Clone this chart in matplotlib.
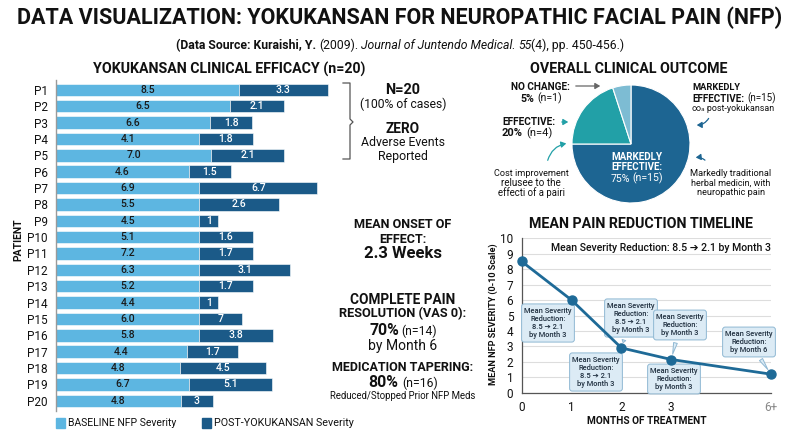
import matplotlib
matplotlib.use('Agg')
import matplotlib.pyplot as plt
from matplotlib.patches import Rectangle, FancyArrowPatch
from matplotlib.lines import Line2D

plt.rcParams['font.family'] = ['Roboto', 'DejaVu Sans']

# ---------------- data ----------------
patients = [f"P{i}" for i in range(1, 21)]
baseline_labels = ["8.5", "6.5", "6.6", "4.1", "7.0", "4.6", "6.9", "5.5", "4.5", "5.1",
                   "7.2", "6.3", "5.2", "4.4", "6.0", "5.8", "4.4", "4.8", "6.7", "4.8"]
post_labels = ["3.3", "2.1", "1.8", "1.8", "2.1", "1.5", "6.7", "2.6", "1", "1.6",
               "1.7", "3.1", "1.7", "1", "7", "3.8", "1.7", "4.5", "5.1", "3"]
# segment lengths as drawn in the reference (severity-scale units)
baseline_bar = [8.50, 8.09, 7.18, 6.67, 7.22, 6.17, 6.67, 6.67, 6.67, 6.67,
                6.67, 6.67, 6.67, 6.67, 6.67, 6.67, 6.08, 5.77, 6.17, 5.81]
post_bar = [4.14, 2.50, 1.95, 2.47, 3.37, 1.95, 5.47, 3.72, 0.86, 2.47,
            2.47, 4.20, 2.47, 0.86, 2.00, 3.44, 2.37, 4.00, 3.86, 1.50]

outcome_labels = ["Markedly effective", "Effective", "No change"]
outcome_pct = [75, 20, 5]
outcome_n = [15, 4, 1]

months_labels = ["0", "1", "2", "3", "6+"]
months_pos = [0, 1, 2, 3, 5]
mean_severity = [8.5, 6.0, 2.9, 2.15, 1.2]

C_BASE = '#5db6e1'
C_POST = '#1b5a88'
C_PIE = ['#1d6592', '#22a0a7', '#7dbcd3']
C_LINE = '#1e6a97'
C_TXT = '#111111'

W, H = 800, 436
fig = plt.figure(figsize=(8, 4.36), dpi=100)
R = fig.canvas.get_renderer()


def P(x, y):
    return (x / W, 1 - y / H)


def text_w(s, size, **kw):
    t = fig.text(0, 0, s, fontsize=size, **kw)
    w = t.get_window_extent(R).width
    t.remove()
    return w


def fit(s, x, y, width, ha='center', va='center', color=C_TXT, **kw):
    w1 = text_w(s, 10, **kw)
    size = 10 * width / w1
    return fig.text(*P(x, y), s, fontsize=size, ha=ha, va=va, color=color, **kw)


def rich(pieces, x, y, width, ha='center', color=C_TXT, gaps=None):
    base = 10
    ws = [text_w(s, base * r, **kw) for s, r, kw in pieces]
    g = 0.26 * base * 100 / 72
    if gaps is None:
        gaps = [g] * (len(pieces) - 1) + [0]
    else:
        gaps = [g * v for v in gaps] + [0]
    total = sum(ws) + sum(gaps)
    k = width / total
    x0 = x - width / 2 if ha == 'center' else x
    maxsize = max(r for _, r, _ in pieces) * base * k
    yb = y + 0.36 * maxsize * 100 / 72
    cx = x0
    for (s, r, kw), w, gg in zip(pieces, ws, gaps):
        fig.text(*P(cx, yb), s, fontsize=base * r * k, ha='left', va='baseline',
                 color=color, **kw)
        cx += (w + gg) * k


B = dict(fontweight='bold')
N = dict()
I = dict(fontstyle='italic')

# ---------------- titles ----------------
fit("DATA VISUALIZATION: YOKUKANSAN FOR NEUROPATHIC FACIAL PAIN (NFP)", 400, 18, 765, **B)
rich([("(Data Source: Kuraishi, Y.", 1, B), ("(2009).", 1, N),
      ("Journal of Juntendo Medical.", 1, I), ("55", 1, I),
      ("(4), pp. 450-456.)", 1, N)],
     400, 45, 449, gaps=[1, 1, 1, 0])

fit("YOKUKANSAN CLINICAL EFFICACY (n=20)", 229, 69, 272, **B)
fit("OVERALL CLINICAL OUTCOME", 629, 69, 198, **B)
fit("MEAN PAIN REDUCTION TIMELINE", 641, 224, 224, **B)

# ---------------- bar chart ----------------
ax1 = fig.add_axes([56 / W, 1 - 410.6 / H, (340 - 56) / W, (410.6 - 80) / H])
ypos = list(range(len(patients)))
ax1.barh(ypos, baseline_bar, height=0.76, color=C_BASE, edgecolor='white', linewidth=0.4)
ax1.barh(ypos, post_bar, left=baseline_bar, height=0.76, color=C_POST,
         edgecolor='white', linewidth=0.4)
for yi, b, p, bl, pl in zip(ypos, baseline_bar, post_bar, baseline_labels, post_labels):
    ax1.text(b / 2, yi, bl, ha='center', va='center', fontsize=7.5, color='#1a1a1a',
             fontweight='medium')
    ax1.text(b + p / 2, yi, pl, ha='center', va='center', fontsize=7.5, color='white',
             fontweight='medium')
ax1.set_xlim(0, 284 / 21.5)
ax1.set_ylim(19.6, -0.6)
ax1.set_yticks(ypos)
ax1.set_yticklabels(patients, fontsize=8.5, color=C_TXT)
ax1.tick_params(axis='y', length=0, pad=6)
ax1.set_xticks([])
for s in ['top', 'right', 'bottom']:
    ax1.spines[s].set_visible(False)
ax1.spines['left'].set_color('#9a9a9a')
ax1.spines['left'].set_linewidth(1.0)
fig.text(*P(18, 240), "PATIENT", rotation=90, ha='center', va='center',
         fontsize=7.5, fontweight='bold', color=C_TXT)

# legend
fig.patches.append(Rectangle(P(56, 428), 9 / W, 10 / H, transform=fig.transFigure,
                             color=C_BASE))
fit("BASELINE NFP Severity", 68, 423, 108, ha='left')
fig.patches.append(Rectangle(P(202, 428), 9 / W, 10 / H, transform=fig.transFigure,
                             color=C_POST))
fit("POST-YOKUKANSAN Severity", 214, 423, 139, ha='left')

# ---------------- middle stats column ----------------
fig.add_artist(Line2D([343 / W, 350 / W, 350 / W, 353 / W, 350 / W, 350 / W, 343 / W],
                      [1 - 83 / H, 1 - 83 / H, 1 - 119 / H, 1 - 122 / H, 1 - 125 / H,
                       1 - 159 / H, 1 - 159 / H],
                      transform=fig.transFigure, color='#555555', lw=0.9))
MX = 403
fit("N=20", MX, 90, 35, **B)
fit("(100% of cases)", MX, 104, 87)
fit("ZERO", MX, 129, 34, **B)
fit("Adverse Events", MX, 143, 84)
fit("Reported", MX, 156, 50)

fit("MEAN ONSET OF", MX, 224, 98, **B)
fit("EFFECT:", MX, 239, 48, **B)
fit("2.3 Weeks", MX, 253, 78, **B)

fit("COMPLETE PAIN", MX, 300, 105, **B)
fit("RESOLUTION (VAS 0):", MX, 314, 128, **B)
rich([("70%", 1.3, B), ("(n=14)", 1.0, N)], MX, 329, 68)
fit("by Month 6", MX, 346, 69)

fit("MEDICATION TAPERING:", MX, 367, 142, **B)
rich([("80%", 1.3, B), ("(n=16)", 1.0, N)], MX, 381, 69)
fit("Reduced/Stopped Prior NFP Meds", MX, 396, 146)

# ---------------- pie chart ----------------
cxp, cyp, rp = 631, 144, 59
ax2 = fig.add_axes([(cxp - rp) / W, 1 - (cyp + rp) / H, 2 * rp / W, 2 * rp / H])
ax2.pie(outcome_pct, startangle=90, counterclock=False, colors=C_PIE,
        wedgeprops=dict(edgecolor='white', linewidth=0.8))
ax2.set_xlim(-1, 1)
ax2.set_ylim(-1, 1)
ax2.set_aspect('equal')
ax2.axis('off')

fit("MARKEDLY", 637, 157, 51, color='white', **B)
fit("EFFECTIVE:", 637, 167, 52, color='white', **B)
rich([(f"{outcome_pct[0]}%", 1.0, N), (f"(n={outcome_n[0]})", 1.0, N)], 637, 178, 53,
     color='white')

fit("NO CHANGE:", 540, 87, 59, **B)
rich([(f"{outcome_pct[2]}%", 1.0, B), (f"(n={outcome_n[2]})", 1.0, N)], 541, 98, 41)
fit("EFFECTIVE:", 502, 122, 54, ha='left', **B)
rich([(f"{outcome_pct[1]}%", 1.0, B), (f"(n={outcome_n[1]})", 1.0, N)], 502, 132, 50,
     ha='left')

fit("Cost improvement", 531, 173, 75)
fit("relusee to the", 531, 183, 60)
fit("effecti of a pairi", 531, 193, 68)

fit("MARKEDLY", 692, 87, 48, ha='left', **B)
rich([("EFFECTIVE:", 1.0, B), (f"(n={outcome_n[0]})", 1.0, N)], 692, 98, 84, ha='left')
fit("\u221e\u2090 post-yokukansan", 692, 108, 82, ha='left')

fit("Markedly traditional", 731, 173, 82)
fit("herbal medicin, with", 731, 183, 80)
fit("neuropathic pain", 731, 192, 68)


def farrow(p0, p1, color, rad=0.0, lw=0.9):
    a = FancyArrowPatch(P(*p0), P(*p1), transform=fig.transFigure,
                        arrowstyle='-|>,head_length=3,head_width=1.8',
                        connectionstyle=f'arc3,rad={rad}', color=color, lw=lw)
    fig.add_artist(a)


farrow((573, 86), (603, 86), '#666666')
farrow((559, 122), (571, 122), '#22a0a7')
farrow((547, 163), (569, 143), '#22a0a7', rad=-0.35)
farrow((710, 116), (694, 125), C_PIE[0], rad=-0.35)
farrow((707, 162), (693, 158), C_PIE[0], rad=0.3)

# ---------------- line chart ----------------
ax3 = fig.add_axes([521.7 / W, 1 - 392.7 / H, (771 - 521.7) / W, (392.7 - 238.3) / H])
ax3.plot(months_pos, mean_severity, color=C_LINE, lw=2.0, marker='o', markersize=6.5,
         clip_on=False, zorder=5)
ax3.set_xlim(0, 5)
ax3.set_ylim(0, 10)
ax3.set_yticks(range(0, 11))
ax3.set_yticklabels([str(v) for v in range(0, 11)], fontsize=8.5, color=C_TXT)
ax3.set_xticks(months_pos)
ax3.set_xticklabels(months_labels, fontsize=8.5, color=C_TXT)
ax3.get_xticklabels()[-1].set_color('#888888')
ax3.tick_params(length=0)
ax3.tick_params(axis='y', pad=6)
ax3.tick_params(axis='x', pad=6)
ax3.grid(axis='y', color='#dddddd', lw=0.8)
ax3.set_axisbelow(True)
for s in ['top', 'right']:
    ax3.spines[s].set_visible(False)
for s in ['left', 'bottom']:
    ax3.spines[s].set_color('#555555')
    ax3.spines[s].set_linewidth(0.9)
t = fig.text(*P(493, 314), "MEAN NFP SEVERITY (0-10 Scale)", rotation=90, ha='center',
             va='center', fontweight='bold', color=C_TXT, fontsize=10)
t.set_fontsize(10 * 142 / t.get_window_extent(R).height)
fit("MONTHS OF TREATMENT", 647, 421, 119, **B)

fit("Mean Severity Reduction: 8.5 \u2794 2.1 by Month 3", 771, 248, 222, ha='right',
    fontweight='medium')

FC, EC = '#dcebf5', '#8fb8d3'
callouts = [
    ("Mean Severity\nReduction:\n8.5 \u2794 2.1\nby Month 3", 1, (548, 323)),
    ("Mean Severity\nReduction:\n8.5 \u2794 2.1\nby Month 3", 2, (631, 318)),
    ("Mean Severity\nReduction:\n8.5 \u2794 2.1\nby Month 3", 2, (596, 372)),
    ("Mean Severity\nReduction:\nby Month 3", 3, (680, 325)),
    ("Mean Severity\nReduction:\nby Month 3", 3, (674, 379)),
    ("Mean Severity\nReduction:\nby Month 6", 4, (749, 342)),
]
for txt, idx, (bx, by) in callouts:
    xd = (bx - 521.7) / ((771 - 521.7) / 5)
    yd = (392.7 - by) / ((392.7 - 238.3) / 10)
    ax3.annotate(txt, xy=(months_pos[idx], mean_severity[idx]), xytext=(xd, yd),
                 ha='center', va='center', fontsize=5.4, fontweight='medium',
                 color='#1f2f3f', linespacing=1.05, zorder=4,
                 bbox=dict(boxstyle='round,pad=0.35', fc=FC, ec=EC, lw=0.7),
                 arrowprops=dict(arrowstyle='wedge,tail_width=0.5,shrink_factor=0.5',
                                 fc=FC, ec=EC, lw=0.7, shrinkB=4))

fig.savefig('out.png', dpi=100)
